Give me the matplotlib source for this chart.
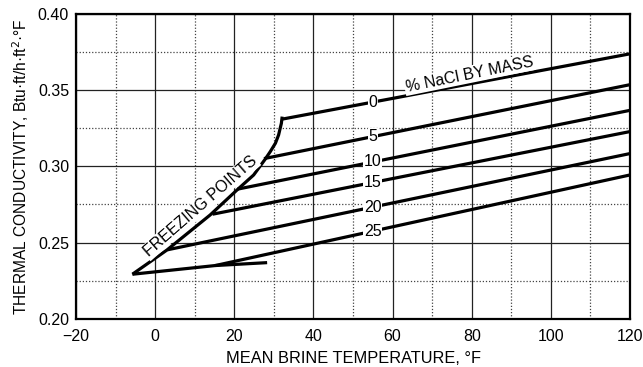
import numpy as np
import matplotlib
matplotlib.use('agg')
import matplotlib.pyplot as plt
from matplotlib.ticker import MultipleLocator

plt.rcParams['font.family'] = ['Liberation Sans', 'DejaVu Sans']

# freezing point curve
freeze_t = [-5.75, 3.0, 13.9, 20.7, 24.9, 27.8, 29.1, 30.4, 31.2, 31.6, 31.9, 32.1]
freeze_k = [0.2293, 0.2452, 0.2681, 0.2845, 0.2943, 0.3046, 0.3096, 0.3151, 0.3205,
            0.3249, 0.3281, 0.3325]

# eutectic branch at the bottom
eut_t = [-5.75, 15.2, 28.3]
eut_k = [0.2293, 0.2350, 0.2369]

# brine lines: % NaCl, start on freezing curve, end at 120 F
pct = ['0', '5', '10', '15', '20', '25']
start_t = [32.0, 27.5, 20.8, 14.5, 3.1, 15.2]
start_k = [0.3308, 0.3050, 0.2850, 0.2686, 0.2453, 0.2350]
end_t = [120, 120, 120, 120, 120, 120]
end_k = [0.3736, 0.3534, 0.3366, 0.3227, 0.3083, 0.2943]

label_t = 55

fig = plt.figure(figsize=(6.43, 3.67), dpi=100)
ax = fig.add_axes([76 / 643, 1 - 319 / 367, 554 / 643, 305.5 / 367])

ax.set_xlim(-20, 120)
ax.set_ylim(0.20, 0.40)
ax.xaxis.set_major_locator(MultipleLocator(20))
ax.xaxis.set_minor_locator(MultipleLocator(10))
ax.yaxis.set_major_locator(MultipleLocator(0.05))
ax.yaxis.set_minor_locator(MultipleLocator(0.025))
ax.yaxis.set_major_formatter(matplotlib.ticker.FormatStrFormatter('%.2f'))
ax.grid(which='major', color='#222222', linewidth=0.9, linestyle='-')
ax.grid(which='minor', color='#444444', linewidth=0.9, linestyle=(0, (1, 1.5)))
ax.set_axisbelow(True)
ax.tick_params(which='both', length=0, labelsize=11.5)
ax.tick_params(axis='x', pad=7)
ax.tick_params(axis='y', pad=5)
for s in ax.spines.values():
    s.set_linewidth(1.6)

lw = 2.3
ax.plot(freeze_t, freeze_k, color='black', lw=lw, solid_joinstyle='round', solid_capstyle='butt')
ax.plot(eut_t, eut_k, color='black', lw=lw, solid_capstyle='butt')

for i in range(len(pct)):
    xs = [start_t[i], end_t[i]]
    ys = [start_k[i], end_k[i]]
    ax.plot(xs, ys, color='black', lw=lw, solid_capstyle='butt')
    ky = np.interp(label_t, xs, ys)
    ax.text(label_t, ky, pct[i], fontsize=11.5, ha='center', va='center', zorder=5,
            bbox=dict(facecolor='white', edgecolor='none', pad=0.6))

ax.text(79.4, 0.3601, '% NaCl BY MASS', fontsize=11.5, ha='center', va='center',
        rotation=11.5, zorder=5, bbox=dict(facecolor='white', edgecolor='none', pad=0.8))
ax.text(11.4, 0.2736, 'FREEZING POINTS', fontsize=11.5, ha='center', va='center',
        rotation=41, zorder=5, bbox=dict(facecolor='white', edgecolor='none', pad=0.8))

ax.set_xlabel('MEAN BRINE TEMPERATURE, °F', fontsize=11.8, labelpad=5)
ax.set_ylabel('THERMAL CONDUCTIVITY, Btu·ft/h·ft$^2$·°F', fontsize=11.2, labelpad=5)

plt.savefig('out.png', dpi=100)
